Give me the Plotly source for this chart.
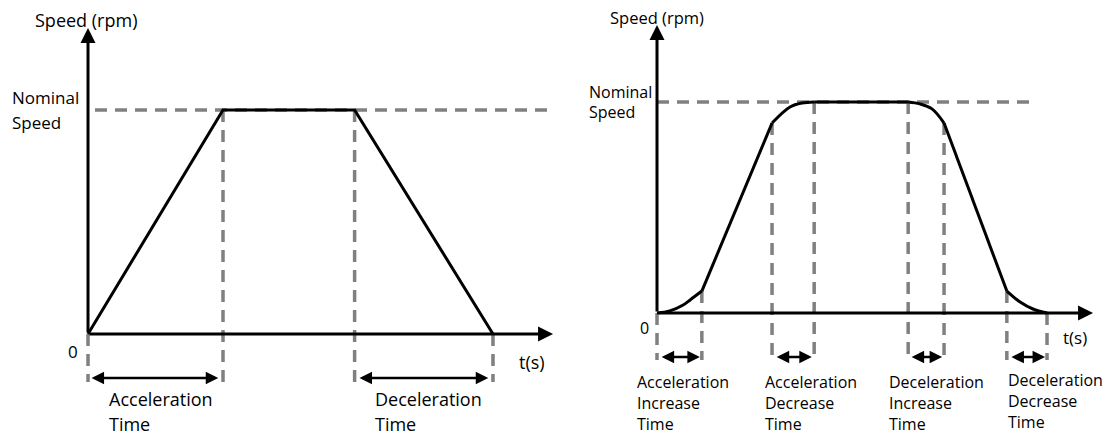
import plotly.graph_objects as go

# ---- Trapezoidal profile (left) ----
trap_t = [0.0, 2.0, 3.95, 6.0]          # start, end of acceleration, start of deceleration, stop
trap_v = [0.0, 1.0, 1.0, 0.0]           # speed as a fraction of nominal speed

# ---- S-curve profile (right), segment by segment ----
s_segments = [
    ([0.0, 0.33, 0.67, 0.85, 1.15], [0.0, 0.01, 0.038, 0.062, 0.104], "spline"),
    ([1.15, 2.95], [0.104, 0.90], "linear"),
    ([2.95, 3.41, 3.72, 4.03], [0.90, 0.976, 0.995, 1.0], "spline"),
    ([4.03, 6.44], [1.0, 1.0], "linear"),
    ([6.44, 6.74, 7.05, 7.36], [1.0, 0.991, 0.967, 0.90], "spline"),
    ([7.36, 8.97], [0.90, 0.104], "linear"),
    ([8.97, 9.31, 9.64, 10.0], [0.104, 0.052, 0.019, 0.0], "spline"),
]
s_marks_t = [0.0, 1.15, 2.95, 4.03, 6.44, 7.36, 8.97, 10.0]
s_marks_v = [0.0, 0.104, 0.90, 1.0, 1.0, 0.90, 0.104, 0.0]

left_intervals = [(0.03, 1.93), (4.0, 5.93)]
left_labels = [("Acceleration", "Time"), ("Deceleration", "Time")]
left_label_t = [0.28, 4.22]

right_intervals = [(0.08, 1.10), (3.03, 3.97), (6.49, 7.31), (9.05, 9.95)]
right_labels = [
    "Acceleration<br>Increase<br>Time",
    "Acceleration<br>Decrease<br>Time",
    "Deceleration<br>Increase<br>Time",
    "Deceleration<br>Decrease<br>Time",
]
right_label_t = [-0.564, 2.72, 5.90, 8.95]
right_label_v = [-0.4265, -0.4265, -0.4265, -0.417]

BLACK = "#000000"
GRAY = "#808080"
DASH = "12px,8px"
FONT = "Open Sans"

fig = go.Figure()

def dashed(x, y, xa, ya):
    fig.add_trace(go.Scatter(x=x, y=y, mode="lines", xaxis=xa, yaxis=ya,
                             line=dict(color=GRAY, width=3.5, dash=DASH),
                             hoverinfo="skip", showlegend=False))

# ---- left: guide lines ----
dashed([0.104, 6.92], [1.0, 1.0], "x", "y")
for t, v in zip(trap_t, trap_v):
    dashed([t, t], [v, -0.214], "x", "y")

# ---- right: guide lines ----
dashed([0.0, 9.64], [1.0, 1.0], "x2", "y2")
for t, v in zip(s_marks_t, s_marks_v):
    dashed([t, t], [v, -0.223], "x2", "y2")

# ---- profiles ----
fig.add_trace(go.Scatter(x=trap_t, y=trap_v, mode="lines", xaxis="x", yaxis="y",
                         line=dict(color=BLACK, width=3), hoverinfo="skip", showlegend=False))
for ts, vs, shape in s_segments:
    fig.add_trace(go.Scatter(x=ts, y=vs, mode="lines", xaxis="x2", yaxis="y2",
                             line=dict(color=BLACK, width=3, shape=shape, smoothing=1),
                             hoverinfo="skip", showlegend=False))

ann = []

def arrow(x0, y0, x1, y1, xr, yr, both=False, width=3, size=1.0):
    ann.append(dict(x=x1, y=y1, ax=x0, ay=y0, xref=xr, yref=yr, axref=xr, ayref=yr,
                    text="", showarrow=True, arrowhead=2, arrowsize=size,
                    arrowwidth=width, arrowcolor=BLACK,
                    arrowside="end+start" if both else "end"))

def label(x, y, text, xr, yr, size, xanchor="left"):
    ann.append(dict(x=x, y=y, xref=xr, yref=yr, text=text, showarrow=False,
                    xanchor=xanchor, yanchor="middle", align="left",
                    font=dict(family=FONT, size=size, color=BLACK)))

# ---- left: axes and labels ----
arrow(0, 0, 0, 1.366, "x", "y")
arrow(0, 0, 6.89, 0, "x", "y")
label(-0.03, 1.40, "Speed (rpm)", "x", "y", 18, "center")
label(-1.156, 1.054, "Nominal", "x", "y", 17)
label(-1.156, 0.946, "Speed", "x", "y", 17)
label(-0.22, -0.08, "0", "x", "y", 17, "center")
label(6.58, -0.125, "t(s)", "x", "y", 18, "center")
for (a, b), (l1, l2), tx in zip(left_intervals, left_labels, left_label_t):
    arrow(a, -0.196, b, -0.196, "x", "y", both=True, width=2.5, size=1.0)
    label(tx, -0.29, l1, "x", "y", 18)
    label(tx, -0.402, l2, "x", "y", 18)

# ---- right: axes and labels ----
arrow(0, 0, 0, 1.365, "x2", "y2")
arrow(0, 0, 11.18, 0, "x2", "y2")
label(0.0, 1.40, "Speed (rpm)", "x2", "y2", 16.5, "center")
label(-1.795, 1.047, "Nominal", "x2", "y2", 16)
label(-1.795, 0.953, "Speed", "x2", "y2", 16)
label(-0.31, -0.071, "0", "x2", "y2", 16, "center")
label(10.72, -0.114, "t(s)", "x2", "y2", 17, "center")
for (a, b), txt, tx, ty in zip(right_intervals, right_labels, right_label_t, right_label_v):
    arrow(a, -0.209, b, -0.209, "x2", "y2", both=True, width=2.5, size=1.0)
    label(tx, ty, txt, "x2", "y2", 16)

hidden = dict(visible=False, showgrid=False, zeroline=False, fixedrange=True)
split = 560 / 1107
fig.update_layout(
    width=1107, height=435,
    margin=dict(l=0, r=0, t=0, b=0),
    paper_bgcolor="white", plot_bgcolor="white",
    showlegend=False,
    xaxis=dict(domain=[0, split], range=[-1.304, 6.993], **hidden),
    yaxis=dict(domain=[0, 1], range=[-0.451, 1.491], **hidden),
    xaxis2=dict(domain=[split, 1], range=[-2.487, 11.538], anchor="y2", **hidden),
    yaxis2=dict(domain=[0, 1], range=[-0.578, 1.483], anchor="x2", **hidden),
    annotations=ann,
)

fig.write_html("out.html")
